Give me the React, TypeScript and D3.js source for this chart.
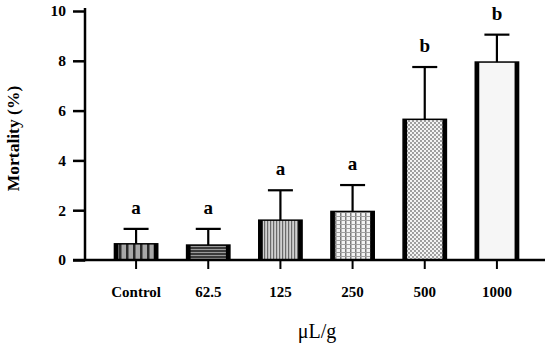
import React, { useRef, useEffect } from 'react';
import * as d3 from 'd3';

// Doses (x categories), mean mortality and error bar (+SD)
const categories: string[] = ['Control', '62.5', '125', '250', '500', '1000'];
const mortality: number[] = [0.65, 0.6, 1.6, 1.95, 5.65, 7.95];
const errorUp: number[] = [0.6, 0.65, 1.2, 1.06, 2.1, 1.1];
const letters: string[] = ['a', 'a', 'a', 'a', 'b', 'b'];
const yTicks: number[] = [0, 2, 4, 6, 8, 10];
const patternIds: string[] = ['pCtrl', 'p625', 'p125', 'p250', 'p500', 'p1000'];

const FONT = '"Liberation Serif", "DejaVu Serif", serif';

const App = () => {
  const ref = useRef<SVGSVGElement>(null);

  useEffect(() => {
    const svg = d3.select(ref.current);
    svg.selectAll('*').remove();

    const x = d3.scaleBand<string>()
      .domain(categories)
      .range([100, 533])
      .paddingInner(0.4)
      .paddingOuter(0.2);

    const y = d3.scaleLinear().domain([0, 10]).range([260, 11]);

    // Fill patterns.
    const defs = svg.append('defs');

    const ctrl = defs.append('pattern').attr('id', 'pCtrl')
      .attr('patternUnits', 'userSpaceOnUse').attr('width', 7).attr('height', 7);
    ctrl.append('rect').attr('width', 7).attr('height', 7).attr('fill', '#a8a8a8');
    ctrl.append('rect').attr('width', 2.5).attr('height', 7).attr('fill', '#2a2a2a');

    const p625 = defs.append('pattern').attr('id', 'p625')
      .attr('patternUnits', 'userSpaceOnUse').attr('width', 4).attr('height', 3);
    p625.append('rect').attr('width', 4).attr('height', 3).attr('fill', '#3a3a3a');
    p625.append('rect').attr('width', 4).attr('height', 1).attr('fill', '#9a9a9a');

    const p125 = defs.append('pattern').attr('id', 'p125')
      .attr('patternUnits', 'userSpaceOnUse').attr('width', 3).attr('height', 3);
    p125.append('rect').attr('width', 3).attr('height', 3).attr('fill', '#d0d0d0');
    p125.append('rect').attr('width', 1.2).attr('height', 3).attr('fill', '#6a6a6a');

    const p250 = defs.append('pattern').attr('id', 'p250')
      .attr('patternUnits', 'userSpaceOnUse').attr('width', 5).attr('height', 4);
    p250.append('rect').attr('width', 5).attr('height', 4).attr('fill', '#f2f2f2');
    p250.append('rect').attr('width', 1.5).attr('height', 4).attr('fill', '#7a7a7a');
    p250.append('rect').attr('width', 5).attr('height', 1).attr('fill', '#a0a0a0');

    const p500 = defs.append('pattern').attr('id', 'p500')
      .attr('patternUnits', 'userSpaceOnUse').attr('width', 4).attr('height', 4);
    p500.append('rect').attr('width', 4).attr('height', 4).attr('fill', '#f4f4f4');
    p500.append('circle').attr('cx', 1).attr('cy', 1).attr('r', 0.9).attr('fill', '#777');
    p500.append('circle').attr('cx', 3).attr('cy', 3).attr('r', 0.9).attr('fill', '#777');

    const p1000 = defs.append('pattern').attr('id', 'p1000')
      .attr('patternUnits', 'userSpaceOnUse').attr('width', 4).attr('height', 4);
    p1000.append('rect').attr('width', 4).attr('height', 4).attr('fill', '#f6f6f6');

    const bw = x.bandwidth();

    // Bars.
    const bars = svg.append('g');
    categories.forEach((c, i) => {
      const x0 = x(c)!;
      const top = y(mortality[i]);
      const h = y(0) - top;
      bars.append('rect')
        .attr('x', x0).attr('y', top).attr('width', bw).attr('height', h)
        .attr('fill', `url(#${patternIds[i]})`)
        .attr('stroke', '#000').attr('stroke-width', 1.5);
      bars.append('rect').attr('x', x0).attr('y', top).attr('width', 4).attr('height', h).attr('fill', '#000');
      bars.append('rect').attr('x', x0 + bw - 4).attr('y', top).attr('width', 4).attr('height', h).attr('fill', '#000');
    });

    // Error bars.
    const err = svg.append('g').attr('stroke', '#000').attr('stroke-width', 2.2);
    categories.forEach((c, i) => {
      const cx = x(c)! + bw / 2;
      const yTop = y(mortality[i] + errorUp[i]);
      err.append('line').attr('x1', cx).attr('x2', cx).attr('y1', y(mortality[i])).attr('y2', yTop);
      err.append('line').attr('x1', cx - 12.5).attr('x2', cx + 12.5).attr('y1', yTop).attr('y2', yTop);
    });

    // Significance letters.
    svg.append('g').selectAll('text')
      .data(categories)
      .join('text')
      .attr('x', d => x(d)! + bw / 2)
      .attr('y', (d, i) => y(mortality[i] + errorUp[i]) - 15)
      .attr('text-anchor', 'middle')
      .style('font-family', FONT)
      .style('font-weight', 'bold')
      .style('font-size', '19px')
      .text((d, i) => letters[i]);

    // Y axis.
    const yAxis = svg.append('g').attr('transform', 'translate(85,0)')
      .call(d3.axisLeft(y).tickValues(yTicks).tickSize(12).tickPadding(7));
    yAxis.select('.domain').remove();
    yAxis.selectAll('.tick line').attr('stroke', '#000').attr('stroke-width', 2.5);
    yAxis.selectAll('.tick text')
      .style('font-family', FONT).style('font-weight', 'bold').style('font-size', '15.5px').attr('fill', '#000');
    svg.append('line').attr('x1', 85).attr('x2', 85).attr('y1', y(10) - 3).attr('y2', y(0) + 1.2)
      .attr('stroke', '#000').attr('stroke-width', 2.5);

    // X axis.
    const xAxis = svg.append('g').attr('transform', `translate(0,${y(0)})`)
      .call(d3.axisBottom(x).tickSize(9).tickPadding(17));
    xAxis.select('.domain').remove();
    xAxis.selectAll('.tick line').attr('stroke', '#000').attr('stroke-width', 2);
    xAxis.selectAll('.tick text')
      .style('font-family', FONT).style('font-weight', 'bold').style('font-size', '15px').attr('fill', '#000');
    svg.append('line').attr('x1', 73).attr('x2', 545).attr('y1', y(0)).attr('y2', y(0))
      .attr('stroke', '#000').attr('stroke-width', 2.5);

    // Axis titles.
    svg.append('text')
      .attr('transform', `translate(19,${(y(0) + y(10)) / 2 + 3}) rotate(-90)`)
      .attr('text-anchor', 'middle')
      .style('font-family', FONT).style('font-weight', 'bold').style('font-size', '17.5px')
      .text('Mortality (%)');

    svg.append('text')
      .attr('x', 317).attr('y', 338)
      .attr('text-anchor', 'middle')
      .style('font-family', FONT).style('font-size', '20px')
      .text('μL/g');
  }, []);

  return (
    <svg ref={ref} width={550} height={345}
      style={{ position: 'absolute', left: 0, top: 0, background: '#fff' }} />
  );
};

export default App;
